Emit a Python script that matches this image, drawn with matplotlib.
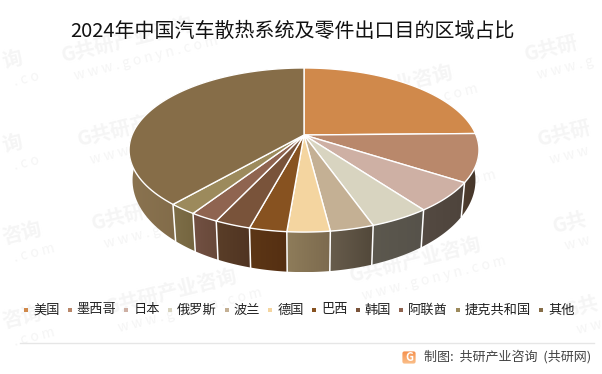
import numpy as np
import matplotlib.patches as patches
import matplotlib.pyplot as plt
from matplotlib.colors import LinearSegmentedColormap

plt.rcParams["font.family"] = ["Noto Sans CJK SC", "DejaVu Sans"]

TITLE = "2024年中国汽车散热系统及零件出口目的区域占比"
FOOTER = "制图:  共研产业咨询  (共研网)"

labels = ["美国", "墨西哥", "日本", "俄罗斯", "波兰", "德国", "巴西", "韩国", "阿联酋", "捷克共和国", "其他"]
shares = [24.7, 9.4, 5.8, 4.7, 3.4, 3.3, 2.9, 2.8, 2.2, 2.2, 38.6]
top_colors = ["#d0894b", "#b9886b", "#ceb0a4", "#d8d4c0", "#c4b094", "#f4d5a0",
              "#875220", "#79533a", "#8f6450", "#9c8a5c", "#866d48"]
side_left = ["#5a4632", "#4f3e2e", "#544a42", "#5c584e", "#675c4c", "#8e7c5a",
             "#5c3616", "#5a3e28", "#735143", "#7e6e48", "#8a7350"]
side_right = ["#43342a", "#43342a", "#4e443c", "#56524a", "#52483a", "#7c6a4e",
              "#552f12", "#503422", "#674839", "#74653f", "#6c5838"]

# watermark pieces as they show inside the canvas: (x, y, text, url part)
marks = [
    (62, 56, "G共研产业咨询", "w w w . g o n y n . c o m"),
    (78, 140, "G共研产业咨询", "w w w . g o n y n . c o m"),
    (92, 224, "G共研产业咨询", "w w w . g o n y n . c o m"),
    (106, 308, "G共研产业咨询", "w w w . g o n y n . c o m"),
    (322, 104, "G共研产业咨询", "w w w . g o n y n . c o m"),
    (340, 190, "G共研产业咨询", "w w w . g o n y n . c o m"),
    (350, 276, "G共研产业咨询", "w w w . g o n y n . c o m"),
    (525, 55, "G共研", "w w w . g"),
    (538, 140, "G共研", "w w w"),
    (553, 226, "G共", "w w"),
    (565, 310, "G共", "w w"),
    (2, 62, "询", ". c o"),
    (2, 146, "询", ". c o"),
    (2, 238, "咨询", ". c o m"),
    (2, 322, "咨询", ". c o m"),
]

CX, CY = 304, 135
K = 0.183
A, B = 79.3, 172


def rim(angle):
    # angle is clockwise from 12 o'clock, tilted disc with perspective
    x = np.sin(angle)
    y = -np.cos(angle)
    w = 1 - K * y
    return B * x / w, A * y / w


def lower(dx, dy):
    return CX + 0.98 * dx, CY + 1.12 * dy + 28.4


def gradient_fill(ax, clip, extent, colors, vertical=False, zorder=2):
    cmap = LinearSegmentedColormap.from_list("g", colors)
    grad = np.linspace(0, 1, 64)
    grad = grad[:, None] if vertical else grad[None, :]
    im = ax.imshow(grad, extent=extent, cmap=cmap, aspect="auto", interpolation="bilinear",
                   origin="upper", zorder=zorder)
    im.set_clip_path(clip)


fig = plt.figure(figsize=(6.02, 3.74), dpi=100)
ax = fig.add_axes([0, 0, 1, 1])
ax.axis("off")

for mx, my, mark, url in marks:
    ax.text(mx, my, mark, fontsize=14.5, fontweight="bold", color="#f5f5f5", rotation=14,
            rotation_mode="anchor", ha="left", va="center", zorder=1)
    ax.text(mx + 12, my + 20, url, fontsize=10, color="#f5f5f5", rotation=14,
            rotation_mode="anchor", ha="left", va="center", zorder=1)

edges = np.cumsum([0] + shares) / sum(shares) * 2 * np.pi

# side wall, the part behind the top face gets covered
for i in range(len(shares)):
    start, end = edges[i], edges[i + 1]
    if end < np.pi / 2:
        continue
    start = max(start, np.pi / 2)
    ts = np.linspace(start, end, 80)
    xs, ys = rim(ts)
    bxs, bys = lower(xs, ys)
    px = np.r_[CX + xs, bxs[::-1]]
    py = np.r_[CY + ys, bys[::-1]]
    clip = patches.Polygon(np.column_stack([px, py]), closed=True, transform=ax.transData)
    gradient_fill(ax, clip, (px.min(), px.max(), py.max(), py.min()), [side_left[i], side_right[i]])
    if i > 0 and start < 3 * np.pi / 2 + 0.2:
        ax.plot([CX + xs[0], bxs[0]], [CY + ys[0], bys[0]], color="white", linewidth=1.1, zorder=3)

# top face
for i in range(len(shares)):
    ts = np.linspace(edges[i], edges[i + 1], 80)
    xs, ys = rim(ts)
    pts = np.column_stack([np.r_[CX, CX + xs], np.r_[CY, CY + ys]])
    ax.add_patch(patches.Polygon(pts, closed=True, facecolor=top_colors[i], edgecolor="white",
                                 linewidth=1.0, joinstyle="round", zorder=4))

ax.text(292.5, 31, TITLE, fontsize=14.4, color="#111111", ha="center", va="center", zorder=5)

# legend
lx = 26
for name, color in zip(labels, top_colors):
    ax.add_patch(patches.Rectangle((lx - 2, 308), 4, 4, facecolor=color, edgecolor="none", zorder=5))
    ax.text(lx + 7, 310, name, fontsize=9.5, color="#222222", va="center", zorder=5)
    lx += 17.2 + 13.2 * len(name)

ax.plot([20, 594], [343, 343], color="#e6e6e6", linewidth=1, zorder=5)

# logo and source
logo = patches.FancyBboxPatch((403, 352), 12, 11, boxstyle="round,pad=0.6,rounding_size=2",
                              transform=ax.transData)
gradient_fill(ax, logo, (402, 416, 364, 351), ["#f58f4c", "#fbc08a"], vertical=True, zorder=5)
ax.text(409, 357.5, "G", fontsize=8, fontweight="bold", color="white", ha="center", va="center", zorder=6)
ax.text(424, 357, FOOTER, fontsize=9.4, color="#444444", ha="left", va="center", zorder=5)

ax.set_xlim(0, 602)
ax.set_ylim(374, 0)

fig.savefig("out.png", dpi=100)
plt.close(fig)
